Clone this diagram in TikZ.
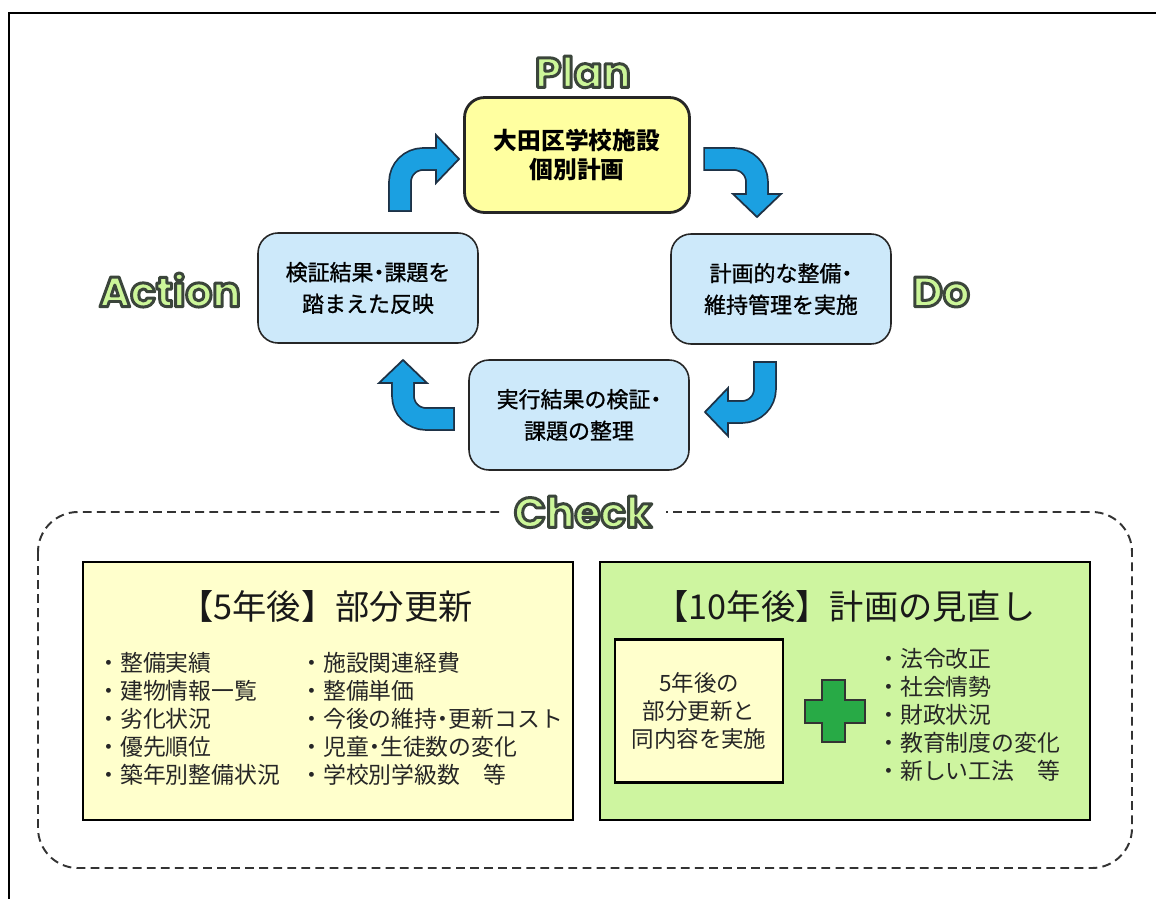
\documentclass[tikz,border=0pt]{standalone}
\usepackage{fontspec}
\setmainfont{Noto Sans CJK JP}
\newfontfamily\stepfont{Noto Sans CJK JP}[FakeBold=1]
\newfontfamily\phasefont{Poppins}
\usetikzlibrary{positioning}

\definecolor{planyellow}{RGB}{255,255,160}
\definecolor{stepblue}{RGB}{205,233,250}
\definecolor{arrowblue}{RGB}{27,160,225}
\definecolor{arrowline}{RGB}{30,50,70}
\definecolor{labelgreen}{RGB}{204,246,153}
\definecolor{noteyellow}{RGB}{255,255,204}
\definecolor{notegreen}{RGB}{206,245,160}
\definecolor{crossgreen}{RGB}{40,170,70}

% narrow middle dot, outlined phase word
\newcommand{\nakaguro}{\makebox[0.5em]{・}}
\newcommand{\phaseword}[1]{\special{pdf:code q 1 j 2 Tr 1.7 w 0.23 0.27 0.23 RG}#1\special{pdf:code Q}}

\tikzset{
  stepbox/.style={draw=black!85, line width=0.9pt, fill=stepblue, rounded corners=0.4cm,
    minimum width=4.4cm, minimum height=2.2cm, align=center,
    font=\stepfont\fontsize{12.5}{18}\selectfont},
  planbox/.style={stepbox, fill=planyellow, line width=1.6pt, minimum width=4.5cm,
    minimum height=2.3cm, font=\fontsize{13.5}{16.5}\selectfont\bfseries},
  phase/.style={text=labelgreen, font=\phasefont\bfseries\fontsize{24}{24}\selectfont},
  notebox/.style={draw=black, line width=1.3pt, minimum width=9.8cm, minimum height=5.16cm},
  titletext/.style={font=\fontsize{19.5}{22}\selectfont, text=black!90},
  listtext/.style={align=left, anchor=west, inner sep=0pt,
    font=\fontsize{13}{15.9}\selectfont, text=black!85},
  arrowrim/.style={draw=arrowline, line width=13.4pt, rounded corners=0.46cm},
  arrowcore/.style={draw=arrowblue, line width=11.4pt, rounded corners=0.46cm},
  arrowhead/.pic={\filldraw[fill=arrowblue, draw=arrowline, line width=1pt]
    (0,-24) -- (23,0) -- (0,24) -- cycle;}
}

\begin{document}
\begin{tikzpicture}[x=0.02cm, y=-0.02cm]
  \useasboundingbox (0,0) rectangle (1156,899);
  \draw[line width=1.7pt] (9,899) -- (9,13) -- (1156,13);

  % PDCA cycle
  \node[planbox] (plan) at (577,155) {大田区学校施設\\個別計画};
  \node[stepbox] (act) at (368,288) {検証結果\nakaguro 課題を\\踏まえた反映};
  \node[stepbox] (do) at (781,289) {計画的な整備\nakaguro\\維持管理を実施};
  \node[stepbox] (chk) at (579,415) {実行結果の検証\nakaguro\\課題の整理};

  \node[phase] (lplan) at (583,72) {\phaseword{Plan}};
  \node[phase] (lact) at (170,290) {\phaseword{Action}};
  \node[phase] (ldo) at (941,292) {\phaseword{Do}};

  % bent arrows
  \draw[arrowrim, shorten <=-1pt] (400,210) |- (436,159);
  \pic at (436,159) {arrowhead};
  \draw[arrowcore, shorten >=-1.5pt] (400,210) |- (436,159);

  \draw[arrowrim, shorten <=-1pt] (705,159) -| (757,194);
  \pic[rotate=-90] at (757,194) {arrowhead};
  \draw[arrowcore, shorten >=-1.5pt] (705,159) -| (757,194);

  \draw[arrowrim, shorten <=-1pt] (765,363) |- (728,412);
  \pic[rotate=180] at (728,412) {arrowhead};
  \draw[arrowcore, shorten >=-1.5pt] (765,363) |- (728,412);

  \draw[arrowrim, shorten <=-1pt] (453,419) -| (403,383);
  \pic[rotate=90] at (403,383) {arrowhead};
  \draw[arrowcore, shorten >=-1.5pt] (453,419) -| (403,383);

  % check area
  \draw[black!80, line width=1.1pt, dash pattern=on 5pt off 3pt, rounded corners=0.8cm]
    (38,512) rectangle (1132,868);
  \node[phase, fill=white, inner xsep=8pt] (lchk) at (583,512) {\phaseword{Check}};

  \node[notebox, fill=noteyellow] (five) at (328,691) {};
  \node[notebox, fill=notegreen] (ten) at (845,691) {};

  \node[titletext] (fivetitle) at (326,606) {【5年後】部分更新};
  \node[titletext] (tentitle) at (845,606) {【10年後】計画の見直し};

  \node[listtext] (fivea) at (97,719)
    {・整備実績\\・建物情報一覧\\・劣化状況\\・優先順位\\・築年別整備状況};
  \node[listtext] (fiveb) at (300,719)
    {・施設関連経費\\・整備単価\\・今後の維持\nakaguro 更新コスト\\・児童\nakaguro 生徒数の変化\\・学校別学級数\quad 等};

  \node[draw=black, line width=1.3pt, fill=noteyellow, minimum width=3.36cm,
    minimum height=2.86cm, align=center, font=\fontsize{12.8}{16}\selectfont,
    text=black!85] (same) at (699,711) {5年後の\\部分更新と\\同内容を実施};

  \filldraw[fill=crossgreen, draw=black!80, line width=1pt]
    (822,680) -- (845,680) -- (845,700) -- (865,700) -- (865,723) -- (845,723)
    -- (845,742) -- (822,742) -- (822,723) -- (805,723) -- (805,700) -- (822,700) -- cycle;

  \node[listtext] (tenlist) at (877,715)
    {・法令改正\\・社会情勢\\・財政状況\\・教育制度の変化\\・新しい工法\quad 等};
\end{tikzpicture}
\end{document}
